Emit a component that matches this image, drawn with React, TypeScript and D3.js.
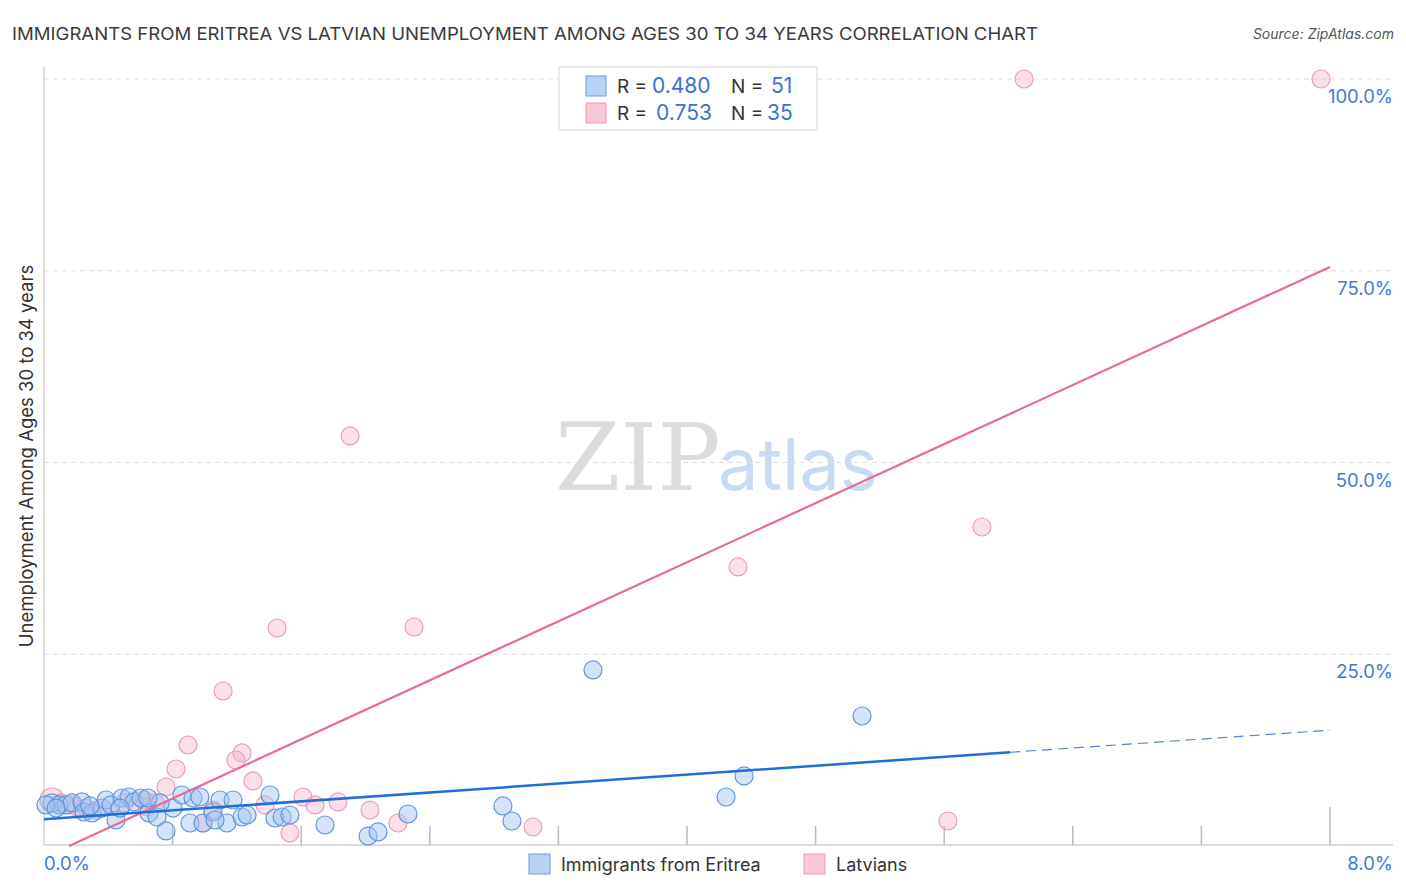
import React from "react";
import * as d3 from "d3";

const eritreaX = [0.050,0.093,0.137,0.174,0.236,0.249,0.299,0.361,0.386,0.417,0.448,0.485,0.529,0.560,0.603,0.653,0.703,0.759,0.803,0.858,0.927,0.970,0.908,0.989,1.051,1.095,1.176,1.138,1.232,1.263,1.406,1.437,1.481,1.530,1.748,2.016,2.078,2.264,2.855,2.911,3.415,4.243,4.355,5.089,0.012,0.286,0.722,0.647,1.064,0.075,0.473];
const eritreaY = [5.61,5.35,5.35,5.61,5.74,4.43,4.30,4.95,6.00,5.35,3.39,6.26,6.39,5.74,6.26,4.30,3.78,1.96,4.95,6.65,6.26,6.39,3.00,3.00,4.43,6.00,6.00,3.00,3.78,4.04,6.65,3.65,3.78,4.04,2.74,1.30,1.83,4.17,5.22,3.26,22.95,6.39,9.13,16.95,5.35,5.22,5.61,6.26,3.39,4.95,4.95];

const latviansX = [6.097,7.944,1.904,5.835,4.317,1.450,2.302,1.114,0.896,0.821,1.232,1.194,1.300,0.759,0.050,0.106,0.168,0.205,0.330,0.498,0.622,0.641,1.375,0.989,1.051,1.530,1.611,1.686,1.829,2.028,2.202,3.042,5.623,0.690,0.261];
const latviansY = [100,100,53.46,41.59,36.38,28.42,28.55,20.21,13.17,10.04,12.13,11.21,8.48,7.69,6.00,5.61,5.35,5.09,4.69,5.61,6.00,5.09,5.35,3.00,4.69,1.70,6.39,5.35,5.74,4.69,3.00,2.48,3.26,5.61,4.95];
const latviansBig = [14];

const blueTrend = { x0: 0, y0: 3.5, xSolidEnd: 6.01, x1: 8, y1: 15.1 };
const pinkTrend = { x0: 0.156, y0: 0, x1: 8, y1: 75.5 };

const yTicks = [25, 50, 75, 100];
const xTicks = [0.8, 1.6, 2.4, 3.2, 4.0, 4.8, 5.6, 6.4, 7.2, 8.0];

const TITLE = "IMMIGRANTS FROM ERITREA VS LATVIAN UNEMPLOYMENT AMONG AGES 30 TO 34 YEARS CORRELATION CHART";

export default function App() {
  const x = d3.scaleLinear().domain([0, 8]).range([44, 1330]);
  const y = d3.scaleLinear().domain([0, 100]).range([846, 79]);
  const blueY = (v: number) => blueTrend.y0 + ((blueTrend.y1 - blueTrend.y0) * (v - blueTrend.x0)) / (blueTrend.x1 - blueTrend.x0);
  const line = d3.line<[number, number]>().x((d) => x(d[0])).y((d) => y(d[1]));
  const font = "Inter, 'Open Sans', sans-serif";
  const tickColor = "#4279d6";
  return (
    <svg width={1406} height={892} style={{ position: "absolute", left: 0, top: 0, background: "#fff" }} fontFamily={font}>
      <text x={12} y={40} fontSize={17} fill="#3a3a3a" textLength={1026} lengthAdjust="spacingAndGlyphs">{TITLE}</text>
      <text x={1394} y={39} fontSize={14} fill="#555" fontStyle="italic" textAnchor="end">Source: ZipAtlas.com</text>

      {/* watermark */}
      <text x={555} y={490} fontSize={94} fontFamily="'DejaVu Serif', 'Liberation Serif', serif" fill="#dcdcdc">ZIP</text>
      <text x={718} y={490} fontSize={72} fill="#c9dbf2">atlas</text>

      {/* grid */}
      {yTicks.map((t) => (
        <g key={t}>
          <line x1={44} x2={1393} y1={y(t)} y2={y(t)} stroke="#dedede" strokeDasharray="5,4" />
          <text x={1393} y={y(t) + 24} fontSize={18.5} fill={tickColor} textAnchor="end">{t.toFixed(1)}%</text>
        </g>
      ))}

      {/* axes */}
      <line x1={44} x2={44} y1={67} y2={845} stroke="#bbb" />
      <line x1={44} x2={1393} y1={845} y2={845} stroke="#bbb" />
      {xTicks.map((t) => (
        <line key={t} x1={x(t)} x2={x(t)} y1={845} y2={t === 8 ? 807 : 826} stroke="#bbb" strokeWidth={1.5} />
      ))}
      <text x={44} y={870} fontSize={18.5} fill={tickColor}>0.0%</text>
      <text x={1393} y={870} fontSize={18.5} fill={tickColor} textAnchor="end">8.0%</text>

      <text transform={`translate(33,456) rotate(-90)`} fontSize={18.5} fill="#333" textAnchor="middle">Unemployment Among Ages 30 to 34 years</text>

      {/* points */}
      {latviansX.map((v, i) => (
        <circle key={"p" + i} cx={x(v)} cy={y(latviansY[i])} r={latviansBig.includes(i) ? 12 : 9} fill="rgba(246,176,200,0.4)" stroke="#ec9bb6" strokeWidth={1.2} />
      ))}
      {eritreaX.map((v, i) => (
        <circle key={"b" + i} cx={x(v)} cy={y(eritreaY[i])} r={9} fill="rgba(160,196,240,0.45)" stroke="#5f95de" strokeWidth={1.2} />
      ))}

      {/* trend lines */}
      <path d={line([[pinkTrend.x0, pinkTrend.y0], [pinkTrend.x1, pinkTrend.y1]]) || ""} stroke="#e8699a" strokeWidth={2.2} fill="none" />
      <path d={line([[blueTrend.x0, blueY(blueTrend.x0)], [blueTrend.xSolidEnd, blueY(blueTrend.xSolidEnd)]]) || ""} stroke="#1f6fd6" strokeWidth={2.5} fill="none" />
      <path d={line([[blueTrend.xSolidEnd, blueY(blueTrend.xSolidEnd)], [blueTrend.x1, blueY(blueTrend.x1)]]) || ""} stroke="#4f86d6" strokeWidth={1.2} strokeDasharray="10,6" fill="none" />

      {/* top legend */}
      <rect x={559} y={67} width={258} height={63} fill="#fff" stroke="#d6d6d6" />
      <rect x={586} y={76} width={20} height={20} fill="#b7d2f5" stroke="#6a9ee0" />
      <rect x={586} y={103} width={20} height={20} fill="#f9c8d7" stroke="#ec9bb6" />
      <text x={617} y={93} fontSize={19} fill="#333">R = </text>
      <text x={652} y={93} fontSize={21} fill="#3a72d2">0.480</text>
      <text x={731} y={93} fontSize={19} fill="#333">N = </text>
      <text x={771} y={93} fontSize={21} fill="#3a72d2">51</text>
      <text x={617} y={120} fontSize={19} fill="#333">R = </text>
      <text x={656} y={120} fontSize={21} fill="#3a72d2">0.753</text>
      <text x={731} y={120} fontSize={19} fill="#333">N = </text>
      <text x={767} y={120} fontSize={21} fill="#3a72d2">35</text>

      {/* bottom legend */}
      <rect x={529} y={854} width={21} height={20} fill="#b7d2f5" stroke="#6a9ee0" />
      <text x={561} y={871} fontSize={18} fill="#333">Immigrants from Eritrea</text>
      <rect x={804} y={854} width={21} height={20} fill="#f9c8d7" stroke="#ec9bb6" />
      <text x={836} y={871} fontSize={18} fill="#333">Latvians</text>
    </svg>
  );
}
